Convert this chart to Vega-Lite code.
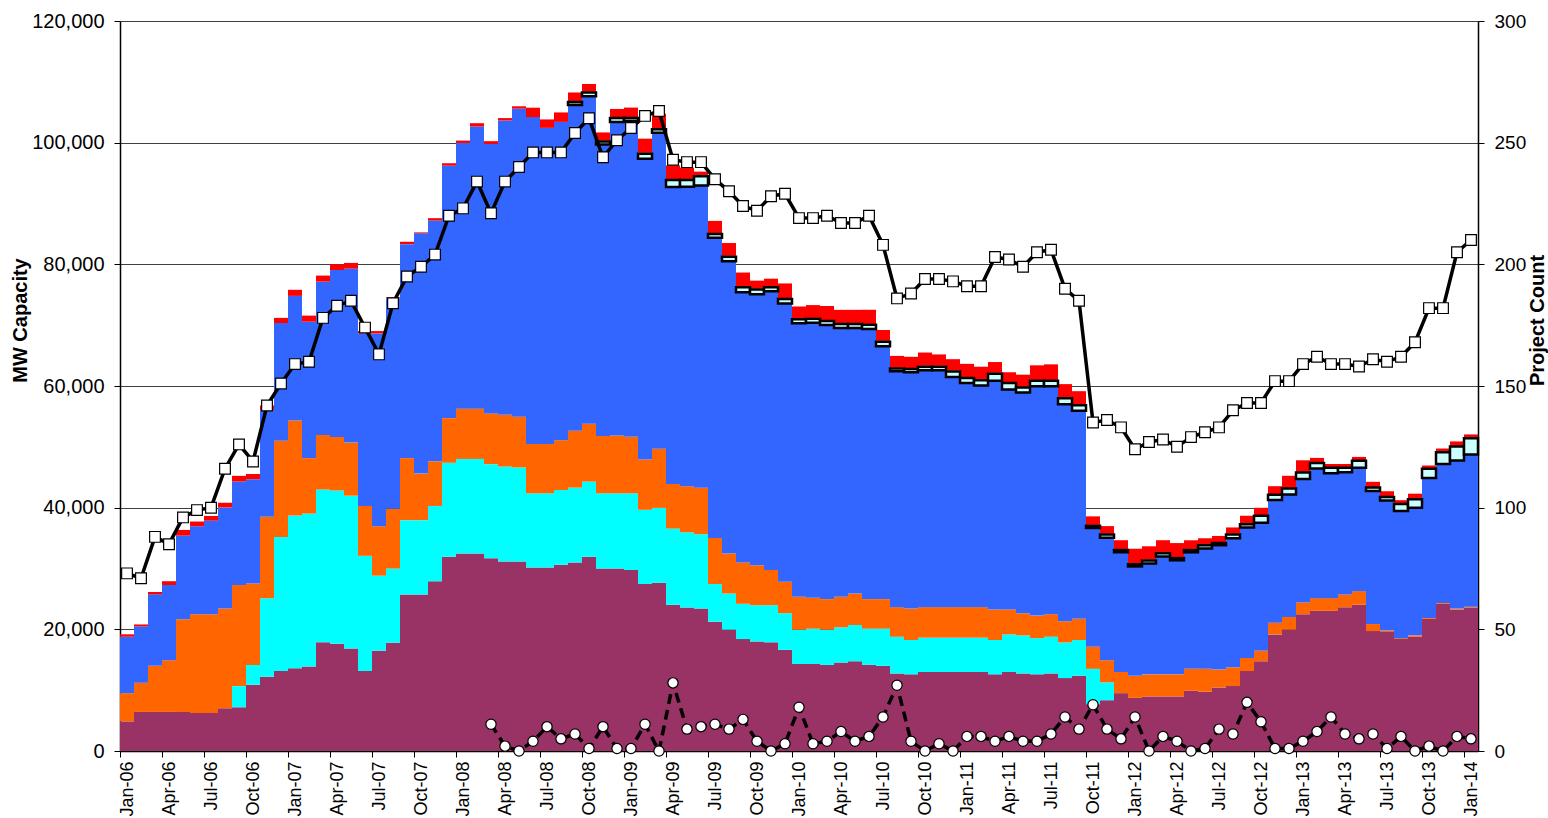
{
"$schema": "https://vega.github.io/schema/vega-lite/v6.json",
"autosize": {"type": "none"},
"padding": {"left": 120, "top": 21, "right": 70, "bottom": 67},
"width": 1358,
"height": 730,
"background": "white",
"config": {
  "font": "Liberation Sans",
  "view": {"stroke": null},
  "axis": {"labelColor": "black", "titleColor": "black", "labelFont": "Liberation Sans", "titleFont": "Liberation Sans", "domainColor": "black", "tickColor": "black"}
},
"data": {"values": [
{"m":"Jan-06","a":4870,"b":0,"c":4640,"d":9280,"e":0,"f":0,"g":390,"p":73,"n":null},
{"m":"Feb-06","a":6420,"b":0,"c":4790,"d":9280,"e":0,"f":0,"g":310,"p":71,"n":null},
{"m":"Mar-06","a":6420,"b":0,"c":7580,"d":11750,"e":0,"f":0,"g":390,"p":88,"n":null},
{"m":"Apr-06","a":6420,"b":0,"c":8500,"d":12370,"e":0,"f":0,"g":620,"p":85,"n":null},
{"m":"May-06","a":6420,"b":0,"c":15230,"d":13760,"e":0,"f":0,"g":930,"p":96,"n":null},
{"m":"Jun-06","a":6260,"b":0,"c":16230,"d":14460,"e":0,"f":0,"g":770,"p":99,"n":null},
{"m":"Jul-06","a":6260,"b":0,"c":16230,"d":15380,"e":0,"f":0,"g":770,"p":100,"n":null},
{"m":"Aug-06","a":7030,"b":0,"c":16390,"d":16620,"e":0,"f":0,"g":770,"p":116,"n":null},
{"m":"Sep-06","a":7190,"b":3480,"c":16620,"d":17010,"e":0,"f":0,"g":930,"p":126,"n":null},
{"m":"Oct-06","a":10900,"b":3250,"c":13370,"d":17160,"e":0,"f":0,"g":850,"p":119,"n":null},
{"m":"Nov-06","a":12210,"b":12910,"c":13370,"d":17550,"e":0,"f":0,"g":770,"p":142,"n":null},
{"m":"Dec-06","a":13140,"b":22030,"c":15850,"d":19330,"e":0,"f":0,"g":850,"p":151,"n":null},
{"m":"Jan-07","a":13600,"b":25120,"c":15610,"d":20480,"e":0,"f":0,"g":1000,"p":159,"n":null},
{"m":"Feb-07","a":13910,"b":25120,"c":9120,"d":22420,"e":0,"f":0,"g":1000,"p":160,"n":null},
{"m":"Mar-07","a":17860,"b":25120,"c":8970,"d":25200,"e":0,"f":0,"g":1000,"p":178,"n":null},
{"m":"Apr-07","a":17620,"b":25200,"c":8810,"d":27440,"e":0,"f":0,"g":930,"p":183,"n":null},
{"m":"May-07","a":16850,"b":25120,"c":8730,"d":28600,"e":0,"f":0,"g":930,"p":185,"n":null},
{"m":"Jun-07","a":13140,"b":18940,"c":8190,"d":28370,"e":0,"f":0,"g":390,"p":174,"n":null},
{"m":"Jul-07","a":16460,"b":12370,"c":8120,"d":31690,"e":0,"f":0,"g":390,"p":163,"n":null},
{"m":"Aug-07","a":17780,"b":12210,"c":9820,"d":34630,"e":0,"f":0,"g":150,"p":184,"n":null},
{"m":"Sep-07","a":25740,"b":12210,"c":10200,"d":35170,"e":0,"f":0,"g":390,"p":195,"n":null},
{"m":"Oct-07","a":25740,"b":12210,"c":7650,"d":39500,"e":0,"f":0,"g":150,"p":199,"n":null},
{"m":"Nov-07","a":27910,"b":12370,"c":7340,"d":39580,"e":0,"f":0,"g":390,"p":204,"n":null},
{"m":"Dec-07","a":31920,"b":15460,"c":7340,"d":41510,"e":0,"f":0,"g":390,"p":220,"n":null},
{"m":"Jan-08","a":32470,"b":15540,"c":8270,"d":43670,"e":0,"f":0,"g":390,"p":223,"n":null},
{"m":"Feb-08","a":32470,"b":15540,"c":8270,"d":46380,"e":0,"f":0,"g":540,"p":234,"n":null},
{"m":"Mar-08","a":31690,"b":15460,"c":8350,"d":44290,"e":0,"f":0,"g":460,"p":221,"n":11},
{"m":"Apr-08","a":31150,"b":15610,"c":8500,"d":48390,"e":0,"f":0,"g":390,"p":234,"n":2},
{"m":"May-08","a":31150,"b":15460,"c":8350,"d":50630,"e":0,"f":0,"g":390,"p":240,"n":0},
{"m":"Jun-08","a":30150,"b":12210,"c":8120,"d":53720,"e":0,"f":0,"g":1550,"p":246,"n":4},
{"m":"Jul-08","a":30150,"b":12210,"c":8120,"d":51950,"e":0,"f":0,"g":1390,"p":246,"n":10},
{"m":"Aug-08","a":30610,"b":12290,"c":8190,"d":52330,"e":0,"f":0,"g":1550,"p":246,"n":5},
{"m":"Sep-08","a":31000,"b":12290,"c":9350,"d":53540,"e":520,"f":150,"g":1400,"p":254,"n":7},
{"m":"Oct-08","a":31920,"b":12370,"c":9510,"d":53850,"e":600,"f":150,"g":1240,"p":260,"n":1},
{"m":"Nov-08","a":29990,"b":12370,"c":9430,"d":47900,"e":520,"f":150,"g":1320,"p":244,"n":10},
{"m":"Dec-08","a":29990,"b":12370,"c":9510,"d":51530,"e":670,"f":150,"g":1320,"p":251,"n":1},
{"m":"Jan-09","a":29760,"b":12600,"c":9280,"d":51910,"e":520,"f":150,"g":1550,"p":256,"n":1},
{"m":"Feb-09","a":27440,"b":12210,"c":8270,"d":49440,"e":830,"f":150,"g":2320,"p":261,"n":11},
{"m":"Mar-09","a":27670,"b":12290,"c":9740,"d":51910,"e":600,"f":150,"g":2400,"p":263,"n":0},
{"m":"Apr-09","a":24040,"b":12520,"c":7340,"d":48820,"e":1140,"f":150,"g":2250,"p":243,"n":28},
{"m":"May-09","a":23580,"b":12370,"c":7580,"d":49210,"e":1140,"f":150,"g":1860,"p":242,"n":9},
{"m":"Jun-09","a":23420,"b":12210,"c":7650,"d":49670,"e":1520,"f":150,"g":620,"p":242,"n":10},
{"m":"Jul-09","a":21260,"b":6180,"c":7580,"d":49360,"e":600,"f":150,"g":2010,"p":235,"n":11},
{"m":"Aug-09","a":19940,"b":5950,"c":6570,"d":48050,"e":750,"f":150,"g":2090,"p":230,"n":9},
{"m":"Sep-09","a":18400,"b":5800,"c":6800,"d":44420,"e":830,"f":150,"g":2250,"p":224,"n":13},
{"m":"Oct-09","a":18010,"b":5950,"c":6570,"d":44570,"e":750,"f":150,"g":1320,"p":222,"n":4},
{"m":"Nov-09","a":17860,"b":6110,"c":5800,"d":45810,"e":670,"f":150,"g":1240,"p":228,"n":0},
{"m":"Dec-09","a":16620,"b":6030,"c":5180,"d":45730,"e":750,"f":150,"g":2400,"p":229,"n":3},
{"m":"Jan-10","a":14300,"b":5640,"c":5410,"d":44960,"e":670,"f":150,"g":1940,"p":219,"n":18},
{"m":"Feb-10","a":14300,"b":5800,"c":5100,"d":45190,"e":670,"f":150,"g":2090,"p":219,"n":3},
{"m":"Mar-10","a":14150,"b":5800,"c":5020,"d":45040,"e":670,"f":150,"g":2320,"p":220,"n":4},
{"m":"Apr-10","a":14530,"b":5800,"c":5020,"d":44180,"e":670,"f":150,"g":2170,"p":217,"n":8},
{"m":"May-10","a":14760,"b":5950,"c":5180,"d":43640,"e":670,"f":150,"g":2170,"p":217,"n":4},
{"m":"Jun-10","a":14150,"b":5950,"c":4870,"d":44420,"e":670,"f":150,"g":2320,"p":220,"n":6},
{"m":"Jul-10","a":13990,"b":6110,"c":4870,"d":41560,"e":750,"f":150,"g":1780,"p":208,"n":14},
{"m":"Aug-10","a":12750,"b":6030,"c":4870,"d":38770,"e":440,"f":150,"g":1940,"p":186,"n":27},
{"m":"Sep-10","a":12600,"b":5640,"c":5180,"d":38850,"e":520,"f":150,"g":1860,"p":188,"n":4},
{"m":"Oct-10","a":12990,"b":5640,"c":5020,"d":38930,"e":600,"f":150,"g":2170,"p":194,"n":0},
{"m":"Nov-10","a":12990,"b":5640,"c":5020,"d":38930,"e":600,"f":150,"g":1860,"p":194,"n":3},
{"m":"Dec-10","a":12990,"b":5640,"c":5020,"d":37850,"e":900,"f":150,"g":1860,"p":193,"n":0},
{"m":"Jan-11","a":12990,"b":5640,"c":5020,"d":36840,"e":830,"f":150,"g":2170,"p":191,"n":6},
{"m":"Feb-11","a":12990,"b":5640,"c":5020,"d":36450,"e":830,"f":150,"g":2090,"p":191,"n":6},
{"m":"Mar-11","a":12600,"b":5640,"c":5020,"d":37610,"e":1140,"f":150,"g":1780,"p":203,"n":4},
{"m":"Apr-11","a":12990,"b":6180,"c":4100,"d":36150,"e":1060,"f":150,"g":1630,"p":202,"n":6},
{"m":"May-11","a":12750,"b":6260,"c":3630,"d":36300,"e":830,"f":150,"g":1940,"p":199,"n":4},
{"m":"Jun-11","a":12600,"b":5950,"c":3710,"d":37690,"e":900,"f":150,"g":2400,"p":205,"n":4},
{"m":"Jul-11","a":12750,"b":6030,"c":3710,"d":37460,"e":900,"f":150,"g":2560,"p":206,"n":7},
{"m":"Aug-11","a":11980,"b":5870,"c":3480,"d":35680,"e":980,"f":150,"g":2170,"p":190,"n":14},
{"m":"Sep-11","a":12370,"b":5870,"c":3480,"d":34210,"e":900,"f":150,"g":2170,"p":185,"n":9},
{"m":"Oct-11","a":7700,"b":5800,"c":3630,"d":19530,"e":360,"f":150,"g":1400,"p":135,"n":19},
{"m":"Nov-11","a":8350,"b":2940,"c":3630,"d":20140,"e":520,"f":150,"g":1240,"p":136,"n":9},
{"m":"Dec-11","a":9510,"b":0,"c":3480,"d":19680,"e":360,"f":150,"g":1470,"p":133,"n":5},
{"m":"Jan-12","a":8730,"b":0,"c":3630,"d":17980,"e":360,"f":150,"g":2400,"p":124,"n":14},
{"m":"Feb-12","a":8970,"b":0,"c":3630,"d":18210,"e":520,"f":150,"g":2170,"p":127,"n":0},
{"m":"Mar-12","a":8970,"b":0,"c":3630,"d":19370,"e":520,"f":150,"g":2010,"p":128,"n":6},
{"m":"Apr-12","a":8970,"b":0,"c":3630,"d":18750,"e":360,"f":150,"g":2320,"p":125,"n":4},
{"m":"May-12","a":9890,"b":0,"c":3630,"d":19140,"e":360,"f":150,"g":1470,"p":129,"n":0},
{"m":"Jun-12","a":9740,"b":0,"c":3790,"d":19760,"e":520,"f":150,"g":1010,"p":131,"n":1},
{"m":"Jul-12","a":10440,"b":0,"c":2940,"d":20450,"e":360,"f":150,"g":1010,"p":133,"n":9},
{"m":"Aug-12","a":10670,"b":0,"c":3090,"d":21230,"e":600,"f":150,"g":1010,"p":140,"n":7},
{"m":"Sep-12","a":13140,"b":0,"c":2160,"d":21460,"e":520,"f":150,"g":1240,"p":143,"n":20},
{"m":"Oct-12","a":14760,"b":0,"c":1700,"d":21070,"e":1140,"f":0,"g":1310,"p":143,"n":12},
{"m":"Nov-12","a":19170,"b":0,"c":1930,"d":20140,"e":900,"f":0,"g":1390,"p":152,"n":1},
{"m":"Dec-12","a":19940,"b":0,"c":2090,"d":20140,"e":980,"f":0,"g":2090,"p":152,"n":1},
{"m":"Jan-13","a":22490,"b":0,"c":1930,"d":20300,"e":1060,"f":0,"g":2010,"p":159,"n":4},
{"m":"Feb-13","a":23040,"b":0,"c":2090,"d":21300,"e":900,"f":0,"g":850,"p":162,"n":8},
{"m":"Mar-13","a":23040,"b":0,"c":2090,"d":20530,"e":900,"f":0,"g":620,"p":159,"n":14},
{"m":"Apr-13","a":23650,"b":0,"c":2090,"d":20070,"e":750,"f":0,"g":620,"p":159,"n":7},
{"m":"May-13","a":24040,"b":0,"c":2240,"d":20300,"e":1140,"f":0,"g":620,"p":158,"n":5},
{"m":"Jun-13","a":19710,"b":0,"c":1160,"d":21850,"e":600,"f":0,"g":930,"p":161,"n":7},
{"m":"Jul-13","a":19560,"b":0,"c":230,"d":21380,"e":600,"f":0,"g":930,"p":160,"n":1},
{"m":"Aug-13","a":18400,"b":0,"c":150,"d":20920,"e":1140,"f":0,"g":620,"p":162,"n":6},
{"m":"Sep-13","a":18780,"b":0,"c":230,"d":20990,"e":1370,"f":0,"g":930,"p":168,"n":0},
{"m":"Oct-13","a":21720,"b":0,"c":150,"d":23000,"e":1520,"f":0,"g":540,"p":182,"n":2},
{"m":"Nov-13","a":24190,"b":0,"c":150,"d":22850,"e":1910,"f":0,"g":620,"p":182,"n":0},
{"m":"Dec-13","a":23270,"b":0,"c":150,"d":24320,"e":2300,"f":0,"g":850,"p":205,"n":6},
{"m":"Jan-14","a":23580,"b":0,"c":150,"d":25010,"e":2680,"f":0,"g":620,"p":210,"n":5}
]},
"layer": [
  {
    "transform": [
      {"fold": ["a","b","c","d","e","f","g"], "as": ["key","value"]},
      {"stack": "value", "groupby": ["m"], "sort": [{"field": "key", "order": "ascending"}], "as": ["v0","v1"]}
    ],
    "layer": [
      {
        "transform": [{"filter": "datum.value > 0"}],
        "mark": {"type": "bar"},
        "encoding": {
          "x": {"field": "m", "type": "ordinal", "sort": null,
                "scale": {"paddingInner": 0, "paddingOuter": 0},
                "axis": {"values": ["Jan-06","Apr-06","Jul-06","Oct-06","Jan-07","Apr-07","Jul-07","Oct-07","Jan-08","Apr-08","Jul-08","Oct-08","Jan-09","Apr-09","Jul-09","Oct-09","Jan-10","Apr-10","Jul-10","Oct-10","Jan-11","Apr-11","Jul-11","Oct-11","Jan-12","Apr-12","Jul-12","Oct-12","Jan-13","Apr-13","Jul-13","Oct-13","Jan-14"],
                         "title": null, "labelAngle": -90, "tickOffset": -7, "labelOffset": 7, "tickSize": 6, "labelFontSize": 18, "labelPadding": 4, "grid": false, "domainWidth": 1.5}},
          "y": {"field": "v0", "type": "quantitative", "scale": {"domain": [0, 120000]},
                "axis": {"values": [0,20000,40000,60000,80000,100000,120000], "format": ",.0f", "title": "MW Capacity",
                         "grid": true, "gridColor": "#404040", "gridWidth": 1, "domainWidth": 1.5, "tickSize": 6,
                         "labelFontSize": 20, "labelPadding": 10, "titleFontSize": 20, "titleFontWeight": "bold",
                         "titleAngle": 270, "titleX": -100, "titleY": 299, "titleAlign": "center", "titleBaseline": "middle"}},
          "y2": {"field": "v1"},
          "color": {"field": "key", "type": "nominal",
                    "scale": {"domain": ["a","b","c","d","e","f","g"], "range": ["#993366","#00FFFF","#FF6600","#3366FF","#CCFFFF","#FFFF00","#FF0000"]},
                    "legend": null}
        }
      },
      {
        "transform": [{"filter": "datum.key === 'e' && datum.value > 0"}],
        "mark": {"type": "bar", "fill": "#CCFFFF", "stroke": "black", "strokeWidth": 2.5},
        "encoding": {
          "x": {"field": "m", "type": "ordinal", "sort": null},
          "y": {"field": "v0", "type": "quantitative"},
          "y2": {"field": "v1"}
        }
      }
    ]
  },
  {
    "layer": [
      {
        "mark": {"type": "line", "color": "black", "strokeWidth": 3.5},
        "encoding": {
          "x": {"field": "m", "type": "ordinal", "sort": null},
          "y": {"field": "p", "type": "quantitative", "title": "Project Count", "scale": {"domain": [0, 300]},
                "axis": {"orient": "right", "values": [0,50,100,150,200,250,300], "grid": false, "domainWidth": 1.5, "tickSize": 6,
                         "labelFontSize": 19, "labelPadding": 10, "titleFontSize": 20, "titleFontWeight": "bold",
                         "titleAngle": 270, "titleX": 59, "titleY": 299, "titleAlign": "center", "titleBaseline": "middle"}}
        }
      },
      {
        "mark": {"type": "point", "shape": "square", "filled": true, "fill": "white", "stroke": "black", "strokeWidth": 1.2, "size": 115, "opacity": 1},
        "encoding": {
          "x": {"field": "m", "type": "ordinal", "sort": null},
          "y": {"field": "p", "type": "quantitative", "title": "Project Count"}
        }
      },
      {
        "mark": {"type": "line", "color": "black", "strokeWidth": 3.5, "strokeDash": [10, 6]},
        "encoding": {
          "x": {"field": "m", "type": "ordinal", "sort": null},
          "y": {"field": "n", "type": "quantitative", "title": "Project Count"}
        }
      },
      {
        "mark": {"type": "point", "shape": "circle", "filled": true, "fill": "white", "stroke": "black", "strokeWidth": 1.2, "size": 105, "opacity": 1},
        "encoding": {
          "x": {"field": "m", "type": "ordinal", "sort": null},
          "y": {"field": "n", "type": "quantitative", "title": "Project Count"}
        }
      }
    ]
  }
],
"resolve": {"scale": {"y": "independent"}}
}
